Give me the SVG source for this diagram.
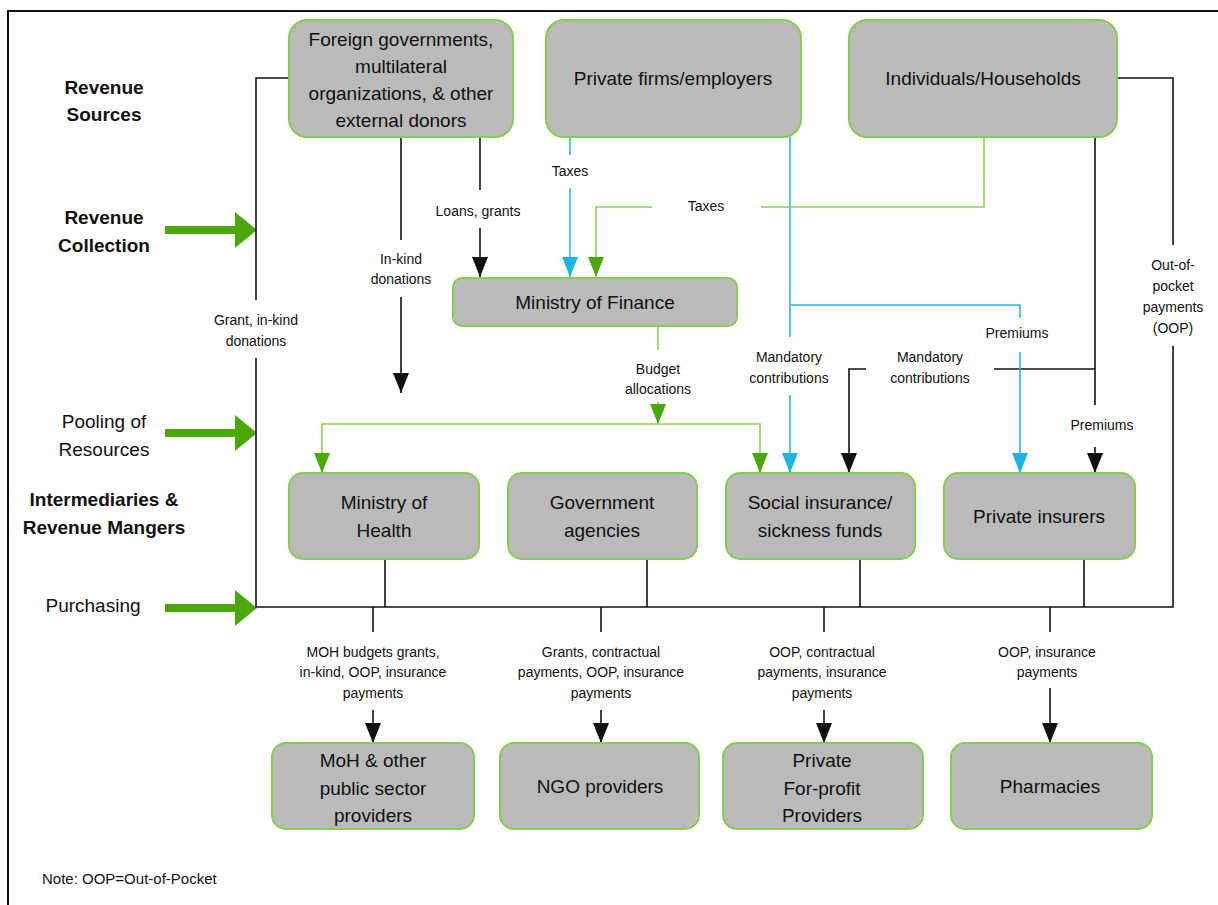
<svg xmlns="http://www.w3.org/2000/svg" width="1218" height="905" viewBox="0 0 1218 905">
<style>
.box{fill:#b9bab9;stroke:#82cf4e;stroke-width:2}
.nt{font-family:"Liberation Sans",Arial,sans-serif;font-size:19px;fill:#111;text-anchor:middle;dominant-baseline:central}
.side{font-family:"Liberation Sans",Arial,sans-serif;font-size:19px;fill:#111;text-anchor:middle;dominant-baseline:central}
.b{font-weight:bold}
.lbl{font-family:"Liberation Sans",Arial,sans-serif;font-size:14px;fill:#111;text-anchor:middle;dominant-baseline:central}
.k{fill:none;stroke:#111;stroke-width:1.6}
.bl{fill:none;stroke:#2ab7e2;stroke-width:1.6}
.gr{fill:none;stroke:#86d458;stroke-width:1.6}
.big{fill:#4aa80a}
</style>
<defs>
<marker id="ak" markerUnits="userSpaceOnUse" viewBox="0 0 20 16" markerWidth="20" markerHeight="16" refX="20" refY="8" orient="auto"><path d="M0,0 L20,8 L0,16 z" fill="#111"/></marker>
<marker id="ab" markerUnits="userSpaceOnUse" viewBox="0 0 20 16" markerWidth="20" markerHeight="16" refX="20" refY="8" orient="auto"><path d="M0,0 L20,8 L0,16 z" fill="#1fb3df"/></marker>
<marker id="ag" markerUnits="userSpaceOnUse" viewBox="0 0 20 16" markerWidth="20" markerHeight="16" refX="20" refY="8" orient="auto"><path d="M0,0 L20,8 L0,16 z" fill="#4aa80a"/></marker>
</defs>
<rect x="0" y="0" width="1218" height="905" fill="#fff"/>
<rect x="8" y="11" width="1220" height="905" fill="none" stroke="#111" stroke-width="2"/>

<g id="side-labels">
<text class="side b" x="104" y="87">Revenue</text>
<text class="side b" x="104" y="114">Sources</text>
<text class="side b" x="104" y="217">Revenue</text>
<text class="side b" x="104" y="245">Collection</text>
<text class="side" x="104" y="421">Pooling of</text>
<text class="side" x="104" y="449">Resources</text>
<text class="side b" x="104" y="499">Intermediaries &amp;</text>
<text class="side b" x="104" y="527">Revenue Mangers</text>
<text class="side" x="93" y="605">Purchasing</text>
<text x="42" y="878" font-family="'Liberation Sans',Arial,sans-serif" font-size="15" fill="#111" dominant-baseline="central">Note: OOP=Out-of-Pocket</text>
</g>

<g id="stage-arrows">
<rect class="big" x="165" y="226" width="72" height="8"/>
<polygon class="big" points="235,212 257,230 235,248"/>
<rect class="big" x="165" y="429" width="72" height="8"/>
<polygon class="big" points="235,415 257,433 235,451"/>
<rect class="big" x="165" y="604" width="72" height="8"/>
<polygon class="big" points="235,590 257,608 235,626"/>
</g>

<g id="connectors">
<!-- black -->
<path class="k" d="M289,78 H256 V300"/>
<path class="k" d="M256,358 V607 H1173 V346"/>
<path class="k" d="M1117,78 H1173 V245"/>
<path class="k" d="M401,137 V240"/>
<path class="k" d="M401,297 V393" marker-end="url(#ak)"/>
<path class="k" d="M480,137 V190"/>
<path class="k" d="M480,228 V277" marker-end="url(#ak)"/>
<path class="k" d="M1095,137 V405"/>
<path class="k" d="M1095,447 V473" marker-end="url(#ak)"/>
<path class="k" d="M1095,369 H994"/>
<path class="k" d="M866,369 H849 V473" marker-end="url(#ak)"/>
<path class="k" d="M385,559 V607"/>
<path class="k" d="M647,559 V607"/>
<path class="k" d="M860,559 V607"/>
<path class="k" d="M1084,559 V607"/>
<path class="k" d="M373,607 V632"/>
<path class="k" d="M373,710 V743" marker-end="url(#ak)"/>
<path class="k" d="M601,607 V632"/>
<path class="k" d="M601,710 V743" marker-end="url(#ak)"/>
<path class="k" d="M824,607 V632"/>
<path class="k" d="M824,710 V743" marker-end="url(#ak)"/>
<path class="k" d="M1050,607 V632"/>
<path class="k" d="M1050,688 V743" marker-end="url(#ak)"/>
<!-- blue -->
<path class="bl" d="M570,137 V155"/>
<path class="bl" d="M570,188 V277" marker-end="url(#ab)"/>
<path class="bl" d="M790,137 V337"/>
<path class="bl" d="M790,395 V473" marker-end="url(#ab)"/>
<path class="bl" d="M790,305 H1020 V318"/>
<path class="bl" d="M1020,352 V473" marker-end="url(#ab)"/>
<!-- green -->
<path class="gr" d="M984,137 V207 H761"/>
<path class="gr" d="M652,207 H596 V277" marker-end="url(#ag)"/>
<path class="gr" d="M658,326 V350"/>
<path class="gr" d="M658,402 V424" marker-end="url(#ag)"/>
<path class="gr" d="M540,424 H322 V473" marker-end="url(#ag)"/>
<path class="gr" d="M540,424 H760 V473" marker-end="url(#ag)"/>
<!-- labels -->
<text class="lbl" x="570" y="171">Taxes</text>
<text class="lbl" x="706" y="206">Taxes</text>
<text class="lbl" x="478" y="211">Loans, grants</text>
<text class="lbl" x="401" y="259">In-kind</text>
<text class="lbl" x="401" y="279">donations</text>
<text class="lbl" x="256" y="320">Grant, in-kind</text>
<text class="lbl" x="256" y="341">donations</text>
<text class="lbl" x="658" y="369">Budget</text>
<text class="lbl" x="658" y="389">allocations</text>
<text class="lbl" x="789" y="357">Mandatory</text>
<text class="lbl" x="789" y="378">contributions</text>
<text class="lbl" x="930" y="357">Mandatory</text>
<text class="lbl" x="930" y="378">contributions</text>
<text class="lbl" x="1017" y="333">Premiums</text>
<text class="lbl" x="1102" y="425">Premiums</text>
<text class="lbl" x="1173" y="265">Out-of-</text>
<text class="lbl" x="1173" y="286">pocket</text>
<text class="lbl" x="1173" y="307">payments</text>
<text class="lbl" x="1173" y="328">(OOP)</text>
<text class="lbl" x="373" y="652">MOH  budgets grants,</text>
<text class="lbl" x="373" y="672">in-kind, OOP, insurance</text>
<text class="lbl" x="373" y="693">payments</text>
<text class="lbl" x="601" y="652">Grants, contractual</text>
<text class="lbl" x="601" y="672">payments, OOP, insurance</text>
<text class="lbl" x="601" y="693">payments</text>
<text class="lbl" x="822" y="652">OOP, contractual</text>
<text class="lbl" x="822" y="672">payments, insurance</text>
<text class="lbl" x="822" y="693">payments</text>
<text class="lbl" x="1047" y="652">OOP, insurance</text>
<text class="lbl" x="1047" y="672">payments</text>
</g>

<g id="foreign">
<rect class="box" x="289" y="20" width="224" height="117" rx="18"/>
<text class="nt" x="401" y="39">Foreign governments,</text>
<text class="nt" x="401" y="66">multilateral</text>
<text class="nt" x="401" y="93">organizations, &amp; other</text>
<text class="nt" x="401" y="120">external donors</text>
</g>
<g id="private-firms">
<rect class="box" x="546" y="20" width="255" height="117" rx="18"/>
<text class="nt" x="673" y="78">Private firms/employers</text>
</g>
<g id="individuals">
<rect class="box" x="849" y="20" width="268" height="117" rx="18"/>
<text class="nt" x="983" y="78">Individuals/Households</text>
</g>
<g id="mof">
<rect class="box" x="453" y="278" width="284" height="48" rx="9"/>
<text class="nt" x="595" y="302">Ministry of Finance</text>
</g>
<g id="moh">
<rect class="box" x="289" y="473" width="190" height="86" rx="14"/>
<text class="nt" x="384" y="502">Ministry of</text>
<text class="nt" x="384" y="530">Health</text>
</g>
<g id="gov-agencies">
<rect class="box" x="508" y="473" width="189" height="86" rx="14"/>
<text class="nt" x="602" y="502">Government</text>
<text class="nt" x="602" y="530">agencies</text>
</g>
<g id="social">
<rect class="box" x="726" y="473" width="189" height="86" rx="14"/>
<text class="nt" x="820" y="502">Social insurance/</text>
<text class="nt" x="820" y="530">sickness funds</text>
</g>
<g id="private-insurers">
<rect class="box" x="944" y="473" width="191" height="86" rx="14"/>
<text class="nt" x="1039" y="516">Private insurers</text>
</g>
<g id="moh-providers">
<rect class="box" x="272" y="743" width="202" height="86" rx="14"/>
<text class="nt" x="373" y="760">MoH &amp; other</text>
<text class="nt" x="373" y="788">public sector</text>
<text class="nt" x="373" y="815">providers</text>
</g>
<g id="ngo">
<rect class="box" x="500" y="743" width="199" height="86" rx="14"/>
<text class="nt" x="600" y="786">NGO providers</text>
</g>
<g id="for-profit">
<rect class="box" x="723" y="743" width="200" height="86" rx="14"/>
<text class="nt" x="822" y="760">Private</text>
<text class="nt" x="822" y="788">For-profit</text>
<text class="nt" x="822" y="815">Providers</text>
</g>
<g id="pharmacies">
<rect class="box" x="951" y="743" width="201" height="86" rx="14"/>
<text class="nt" x="1050" y="786">Pharmacies</text>
</g>
</svg>
